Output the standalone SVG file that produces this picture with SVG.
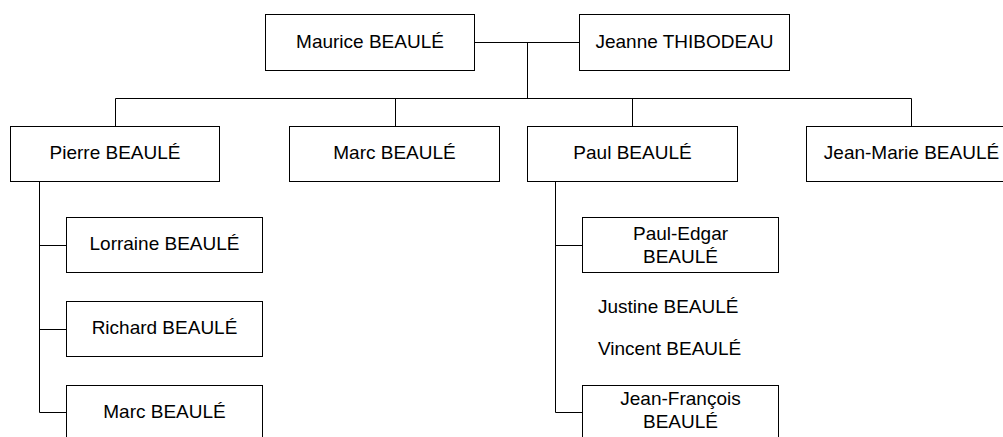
<svg xmlns="http://www.w3.org/2000/svg" width="1003" height="437" viewBox="0 0 1003 437">
<style>
.box{fill:#fff;stroke:#000;stroke-width:1}
.t{font-family:"Liberation Sans",Arial,sans-serif;font-size:19px;fill:#000;text-anchor:middle}
.tl{font-family:"Liberation Sans",Arial,sans-serif;font-size:19px;fill:#000}
.c{fill:none;stroke:#000;stroke-width:1}
</style>
<rect width="1003" height="437" fill="#fff"/>
<g id="connectors">
<path class="c" d="M474.5,42.5H579.5M527.5,42.5V98.5M115.5,98.5H911.5M115.5,98.5V126.5M395.5,98.5V126.5M632.5,98.5V126.5M911.5,98.5V126.5"/>
<path class="c" d="M39.5,181.5V412.5M39.5,245.5H66.5M39.5,329.5H66.5M39.5,412.5H66.5"/>
<path class="c" d="M555.5,181.5V412.5M555.5,245.5H582.5M555.5,412.5H582.5"/>
</g>
<g id="maurice"><rect class="box" x="265.5" y="14.5" width="209" height="56"/><text class="t" x="370" y="47.5">Maurice BEAULÉ</text></g>
<g id="jeanne"><rect class="box" x="579.5" y="14.5" width="210" height="56"/><text class="t" x="684.5" y="47.5">Jeanne THIBODEAU</text></g>
<g id="pierre"><rect class="box" x="10.5" y="126.5" width="209" height="55"/><text class="t" x="115" y="159">Pierre BEAULÉ</text></g>
<g id="marc"><rect class="box" x="289.5" y="126.5" width="210" height="55"/><text class="t" x="394.5" y="159">Marc BEAULÉ</text></g>
<g id="paul"><rect class="box" x="527.5" y="126.5" width="210" height="55"/><text class="t" x="632.5" y="159">Paul BEAULÉ</text></g>
<g id="jeanmarie"><rect class="box" x="806.5" y="126.5" width="210" height="55"/><text class="t" x="911.5" y="159">Jean-Marie BEAULÉ</text></g>
<g id="lorraine"><rect class="box" x="66.5" y="217.5" width="196" height="55"/><text class="t" x="164.5" y="250">Lorraine BEAULÉ</text></g>
<g id="richard"><rect class="box" x="66.5" y="301.5" width="196" height="55"/><text class="t" x="164.5" y="334">Richard BEAULÉ</text></g>
<g id="marc2"><rect class="box" x="66.5" y="385.5" width="196" height="55"/><text class="t" x="164.5" y="418">Marc BEAULÉ</text></g>
<g id="pauledgar"><rect class="box" x="582.5" y="217.5" width="196" height="55"/><text class="t" x="680.5" y="240">Paul-Edgar</text><text class="t" x="680.5" y="262.5">BEAULÉ</text></g>
<g id="justine"><text class="tl" x="598" y="313">Justine BEAULÉ</text></g>
<g id="vincent"><text class="tl" x="598" y="355">Vincent BEAULÉ</text></g>
<g id="jeanfrancois"><rect class="box" x="582.5" y="385.5" width="196" height="55"/><text class="t" x="680.5" y="405">Jean-François</text><text class="t" x="680.5" y="428">BEAULÉ</text></g>
</svg>
